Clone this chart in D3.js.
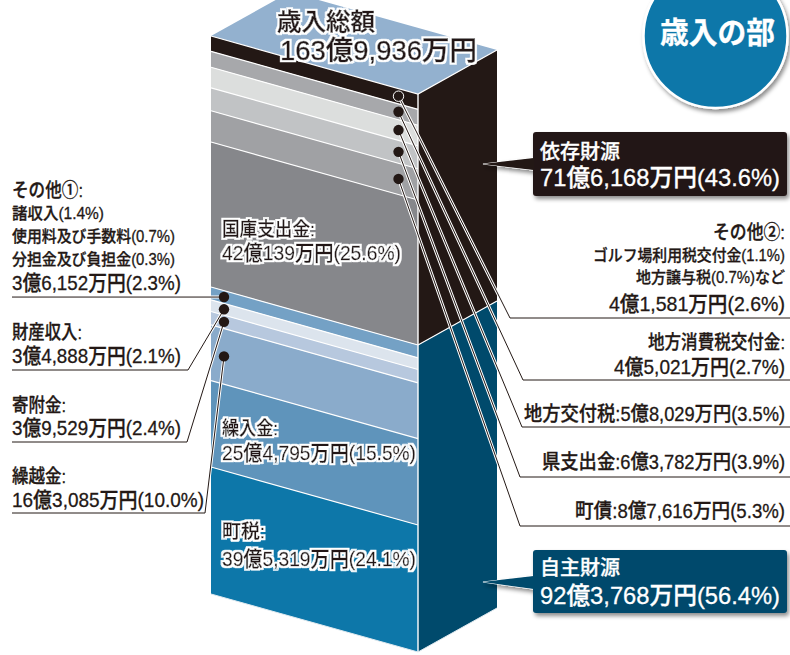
<!DOCTYPE html>
<html lang="ja">
<head>
<meta charset="utf-8">
<style>
  html, body { margin: 0; padding: 0; background: #fff; }
  svg { display: block; }
  text { font-family: "Liberation Sans", "Noto Sans CJK JP", sans-serif; }
</style>
<script src="https://cdn.jsdelivr.net/npm/d3@7"></script>
</head>
<body>
<svg id="chart" width="790" height="655"></svg>
<script>
// Revenue shares, top of the block to the bottom
const categories = ["その他②", "地方消費税交付金", "地方交付税", "県支出金", "町債", "国庫支出金",
                    "その他①", "財産収入", "寄附金", "繰越金", "繰入金", "町税"];
const shares  = [2.6, 2.7, 3.5, 3.9, 5.3, 25.6, 2.3, 2.1, 2.4, 10.0, 15.5, 24.1];
const amounts = ["4億1,581万円", "4億5,021万円", "5億8,029万円", "6億3,782万円", "8億7,616万円", "42億139万円",
                 "3億6,152万円", "3億4,888万円", "3億9,529万円", "16億3,085万円", "25億4,795万円", "39億5,319万円"];
const groupNames   = ["依存財源", "自主財源"];
const groupShares  = [43.6, 56.4];
const groupAmounts = ["71億6,168万円", "92億3,768万円"];
const totalLabel   = "歳入総額";
const totalAmount  = "163億9,936万円";
const sectionTitle = "歳入の部";
const otherLeft    = ["諸収入(1.4%)", "使用料及び手数料(0.7%)", "分担金及び負担金(0.3%)"];
const otherRight   = ["ゴルフ場利用税交付金(1.1%)", "地方譲与税(0.7%)など"];

const faceColors  = ["#231815", "#a7a8ab", "#dcdedd", "#c1c3c5", "#a0a1a4", "#86878b",
                     "#74a1c5", "#dce4ed", "#b7c8de", "#8aabcb", "#5f94bb", "#0d77a9"];
const sideColors  = ["#231815", "#004a6c"];
const topColor    = "#93b1cf";
const inkColor    = "#231815";

// Cumulative boundaries through the stack
const cum = [0, ...d3.cumsum(shares)];
const cumGroup = [0, ...d3.cumsum(groupShares)];

// Vertical scale of the front-left face, measured along its left edge
const y = d3.scaleLinear().domain([0, 18, 43.6, 75.9, 100]).range([36, 142, 287, 467, 594]);

// Block geometry: the left face shears down to the front edge, the right face shears back up
const xLeft = 211, xFront = 418, xRight = 497;
const dropFront = 58, riseRight = 44;
const faceY = (pct, x) => y(pct) + (x - xLeft) * dropFront / (xFront - xLeft);
const sideY = (pct, x) => y(pct) + dropFront - (x - xFront) * riseRight / (xRight - xFront);

const svg = d3.select("#chart");
const polygon = d3.line();

const defs = svg.append("defs");
const shadow = defs.append("filter").attr("id", "soft").attr("x", "-10%").attr("y", "-10%")
  .attr("width", "125%").attr("height", "130%");
shadow.append("feDropShadow").attr("dx", 2).attr("dy", 3).attr("stdDeviation", 2)
  .attr("flood-color", "#000").attr("flood-opacity", 0.45);

// White outline around text set on the faces
const outline = defs.append("filter").attr("id", "outline")
  .attr("x", "-5%").attr("y", "-20%").attr("width", "110%").attr("height", "140%");
outline.append("feMorphology").attr("in", "SourceAlpha").attr("operator", "dilate")
  .attr("radius", 1.6).attr("result", "fat");
outline.append("feGaussianBlur").attr("in", "fat").attr("stdDeviation", 0.4).attr("result", "soft");
outline.append("feFlood").attr("flood-color", "#fff");
outline.append("feComposite").attr("in2", "soft").attr("operator", "in").attr("result", "ring");
const outlineMerge = outline.append("feMerge");
outlineMerge.append("feMergeNode").attr("in", "ring");
outlineMerge.append("feMergeNode").attr("in", "SourceGraphic");

// Top face
svg.append("path")
  .attr("d", polygon([[xLeft, y(0)], [xFront, faceY(0, xFront)], [xRight, sideY(0, xRight)],
                      [xLeft + xRight - xFront, y(0) + sideY(0, xRight) - faceY(0, xFront)]]) + "Z")
  .attr("fill", topColor);

// Front-left face, one band per category
svg.append("g").selectAll("path").data(shares).join("path")
  .attr("d", (d, i) => polygon([[xLeft, y(cum[i])], [xFront, faceY(cum[i], xFront)],
                                [xFront, faceY(cum[i + 1], xFront)], [xLeft, y(cum[i + 1])]]) + "Z")
  .attr("fill", (d, i) => faceColors[i]);

// White rules between the bands
svg.append("g").selectAll("line").data(cum.slice(1, -1)).join("line")
  .attr("x1", xLeft).attr("x2", xFront)
  .attr("y1", d => y(d)).attr("y2", d => faceY(d, xFront))
  .attr("stroke", "#fff").attr("stroke-width", 1.2);

// Right face, one band per funding group
svg.append("g").selectAll("path").data(groupShares).join("path")
  .attr("d", (d, i) => polygon([[xFront, sideY(cumGroup[i], xFront)], [xRight, sideY(cumGroup[i], xRight)],
                                [xRight, sideY(cumGroup[i + 1], xRight)], [xFront, sideY(cumGroup[i + 1], xFront)]]) + "Z")
  .attr("fill", (d, i) => sideColors[i]);

// White edges of the block
svg.append("path")
  .attr("d", polygon([[xLeft, y(0)], [xFront, faceY(0, xFront)], [xRight, sideY(0, xRight)]]))
  .attr("fill", "none").attr("stroke", "#fff").attr("stroke-width", 1.2);
svg.append("line").attr("x1", xFront).attr("x2", xFront)
  .attr("y1", faceY(0, xFront)).attr("y2", faceY(100, xFront))
  .attr("stroke", "#fff").attr("stroke-width", 1.4);
svg.append("line").attr("x1", xFront).attr("x2", xRight)
  .attr("y1", sideY(groupShares[0], xFront)).attr("y2", sideY(groupShares[0], xRight))
  .attr("stroke", "#fff").attr("stroke-width", 1.2);
svg.append("path")
  .attr("d", polygon([[xLeft, y(100)], [xFront, faceY(100, xFront)], [xRight, sideY(100, xRight)]]))
  .attr("fill", "none").attr("stroke", "#dfe9ef").attr("stroke-width", 1);

// Leader lines: dot inside the band, slanted run, then a rule under the label
const leaderDotX = { right: 398.5, left: 224 };
const leaders = [
  { band: 0, side: "right", elbow: [510, 318], end: 790 },
  { band: 1, side: "right", elbow: [523, 380], end: 790 },
  { band: 2, side: "right", elbow: [522, 427], end: 790 },
  { band: 3, side: "right", elbow: [520, 477], end: 790 },
  { band: 4, side: "right", elbow: [520, 526], end: 790 },
  { band: 6, side: "left",  elbow: null,       end: 12 },
  { band: 7, side: "left",  elbow: [188, 370], end: 12 },
  { band: 8, side: "left",  elbow: [187, 442], end: 12 },
  { band: 9, side: "left",  elbow: [205, 513], end: 12 }
];
const dotPos = l => {
  const x = leaderDotX[l.side];
  return [x, faceY((cum[l.band] + cum[l.band + 1]) / 2, x)];
};
const leaderPath = l => {
  const p = dotPos(l);
  return l.elbow ? polygon([p, l.elbow, [l.end, l.elbow[1]]]) : polygon([p, [l.end, p[1]]]);
};
const gLead = svg.append("g").attr("fill", "none");
gLead.selectAll("path.halo").data(leaders).join("path").attr("class", "halo")
  .attr("d", leaderPath).attr("stroke", "#fff").attr("stroke-width", 3);
gLead.selectAll("path.core").data(leaders).join("path").attr("class", "core")
  .attr("d", leaderPath).attr("stroke", inkColor).attr("stroke-width", 1);
// The top dot sits on the black band, so it carries a white ring
svg.append("g").selectAll("circle").data(leaders).join("circle")
  .attr("cx", d => dotPos(d)[0]).attr("cy", d => dotPos(d)[1]).attr("r", 5.2)
  .attr("fill", inkColor)
  .attr("stroke", (d, i) => i === 0 ? "#fff" : "none").attr("stroke-width", 1);

// Text helper: fits each line between two x positions, centred on cy
function put(parent, str, x0, x1, cy, size, opts = {}) {
  const t = parent.append("text")
    .attr("x", x0).attr("y", cy + size * 0.36)
    .attr("font-size", size).attr("font-weight", opts.weight || 500)
    .attr("fill", opts.fill || inkColor)
    .attr("stroke", opts.fill || inkColor).attr("stroke-width", opts.heavy === undefined ? 0.3 : opts.heavy)
    .attr("textLength", x1 - x0).attr("lengthAdjust", "spacingAndGlyphs")
    .text(str);
  if (opts.halo) t.attr("filter", "url(#outline)");
  return t;
}
const pct = i => `(${shares[i].toFixed(1)}%)`;
const gText = svg.append("g");

// Labels left of the block
put(gText, `${categories[6]}:`, 12, 83, 190, 19);
put(gText, otherLeft[0], 12, 104, 213, 16);
put(gText, otherLeft[1], 12, 175, 236, 16);
put(gText, otherLeft[2], 12, 175, 259, 16);
put(gText, amounts[6] + pct(6), 12, 181, 282, 21);
put(gText, `${categories[7]}:`, 12, 82, 332, 19);
put(gText, amounts[7] + pct(7), 12, 181, 355, 21);
put(gText, `${categories[8]}:`, 12, 66, 405, 19);
put(gText, amounts[8] + pct(8), 12, 181, 427, 21);
put(gText, `${categories[9]}:`, 12, 66, 476, 19);
put(gText, amounts[9] + pct(9), 12, 204, 499, 21);

// Labels right of the block
put(gText, `${categories[0]}:`, 713, 785, 232, 19);
put(gText, otherRight[0], 593, 785, 255, 16);
put(gText, otherRight[1], 636, 785, 277, 16);
put(gText, amounts[0] + pct(0), 609, 785, 303, 21);
put(gText, `${categories[1]}:`, 648, 785, 342, 19);
put(gText, amounts[1] + pct(1), 614, 785, 366, 21);
put(gText, `${categories[2]}:${amounts[2]}${pct(2)}`, 524, 785, 414, 20);
put(gText, `${categories[3]}:${amounts[3]}${pct(3)}`, 542, 785, 462, 20);
put(gText, `${categories[4]}:${amounts[4]}${pct(4)}`, 575, 785, 511, 20);

// Labels set on the faces, outlined in white
put(gText, `${categories[5]}:`, 222, 315, 229, 19, { halo: true });
put(gText, amounts[5] + pct(5), 222, 401, 252, 21, { halo: true });
put(gText, `${categories[10]}:`, 222, 278, 428, 19, { halo: true });
put(gText, amounts[10] + pct(10), 222, 416, 452, 21, { halo: true });
put(gText, `${categories[11]}:`, 222, 265, 531, 19, { halo: true });
put(gText, amounts[11] + pct(11), 222, 416, 558, 21, { halo: true });

// Total on the top face
put(gText, totalLabel, 277, 375, 21, 24, { halo: true, heavy: 0.5 });
put(gText, totalAmount, 280, 477, 50, 27, { halo: true, heavy: 0.5 });

// Group callouts
const callouts = [
  { box: [533, 132, 254, 64], tip: [483, 164], notch: [158, 170], lines: [152, 177], fill: sideColors[0] },
  { box: [533, 550, 254, 63], tip: [483, 582], notch: [576, 589], lines: [568, 595], fill: sideColors[1] }
];
callouts.forEach((c, i) => {
  const g = svg.append("g");
  const [bx, by, bw, bh] = c.box;
  const shape = g.append("g").attr("filter", "url(#soft)");
  shape.append("path")
    .attr("d", polygon([c.tip, [bx + 1, c.notch[0]], [bx + 1, c.notch[1]]]) + "Z")
    .attr("fill", c.fill).attr("stroke", "#fff").attr("stroke-width", 1.2);
  shape.append("rect").attr("x", bx).attr("y", by).attr("width", bw).attr("height", bh)
    .attr("rx", 3).attr("fill", c.fill);
  g.append("path")
    .attr("d", polygon([c.tip, [bx + 1, c.notch[0]], [bx + 1, c.notch[1]]]) + "Z")
    .attr("fill", c.fill);
  put(g, groupNames[i], 540, 620, c.lines[0], 20, { fill: "#fff" });
  put(g, `${groupAmounts[i]}(${groupShares[i].toFixed(1)}%)`, 540, 780, c.lines[1], 24, { fill: "#fff" });
});

// Section badge, corner
const badge = svg.append("g");
badge.append("circle").attr("cx", 715.5).attr("cy", 36).attr("r", 72)
  .attr("fill", "#0d77a9").attr("stroke", "#fff").attr("stroke-width", 2.5)
  .attr("filter", "url(#soft)");
put(badge, sectionTitle, 660, 775, 32, 30, { weight: 700, fill: "#fff" });
</script>
</body>
</html>
